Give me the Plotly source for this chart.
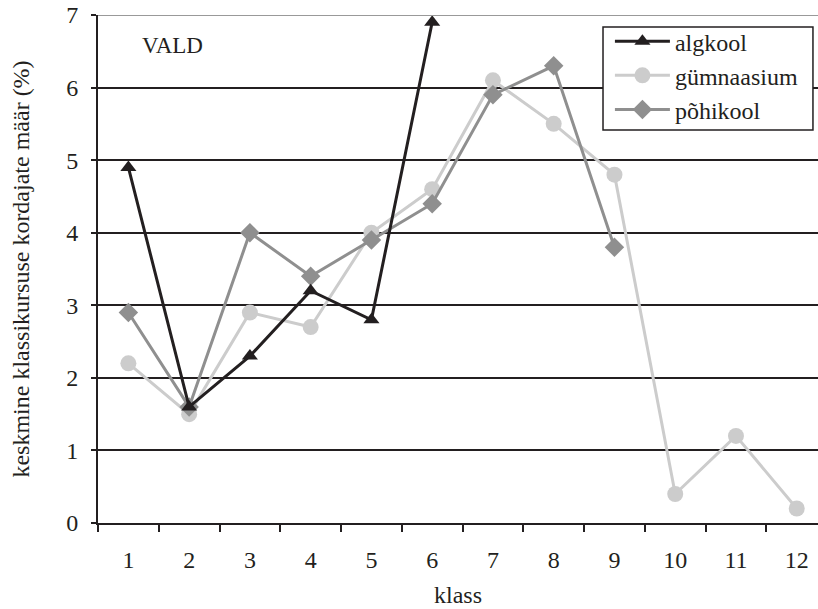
import plotly.graph_objects as go

klass = ["1", "2", "3", "4", "5", "6", "7", "8", "9", "10", "11", "12"]
algkool = [4.9, 1.6, 2.3, 3.2, 2.8, 6.9]
gymnaasium = [2.2, 1.5, 2.9, 2.7, 4.0, 4.6, 6.1, 5.5, 4.8, 0.4, 1.2, 0.2]
pohikool = [2.9, 1.6, 4.0, 3.4, 3.9, 4.4, 5.9, 6.3, 3.8]

FONT = "Liberation Serif"
INK = "#231f20"

fig = go.Figure()
fig.add_trace(go.Scatter(
    x=klass[:len(gymnaasium)], y=gymnaasium, name="gümnaasium", mode="lines+markers",
    line=dict(color="#cccccc", width=3), marker=dict(symbol="circle", size=16, color="#cccccc"),
    legendrank=2))
fig.add_trace(go.Scatter(
    x=klass[:len(pohikool)], y=pohikool, name="põhikool", mode="lines+markers",
    line=dict(color="#8f8f8f", width=3), marker=dict(symbol="diamond", size=15, color="#8f8f8f"),
    legendrank=3))
fig.add_trace(go.Scatter(
    x=klass[:len(algkool)], y=algkool, name="algkool", mode="lines+markers",
    line=dict(color=INK, width=3), marker=dict(symbol="triangle-up", size=14, color=INK),
    legendrank=1))

fig.update_layout(
    width=818, height=609,
    margin=dict(l=98, r=0, t=15, b=86),
    paper_bgcolor="white", plot_bgcolor="white",
    font=dict(family=FONT, size=24, color=INK),
    showlegend=True,
    legend=dict(x=0.711, y=0.992, xanchor="left", yanchor="top",
                borderwidth=0, bgcolor="rgba(0,0,0,0)",
                font=dict(family=FONT, size=24, color=INK),
                tracegroupgap=0, itemwidth=55),
    xaxis=dict(type="category", categoryorder="array", categoryarray=klass,
               range=[-0.5, 11.35], tickson="boundaries",
               ticks="outside", ticklen=7, tickwidth=1.5, tickcolor=INK,
               showline=True, linecolor=INK, linewidth=2,
               showgrid=False, zeroline=False, ticklabelstandoff=14,
               tickfont=dict(family=FONT, size=24, color=INK),
               title=dict(text="klass", standoff=14,
                          font=dict(family=FONT, size=24, color=INK))),
    yaxis=dict(range=[0, 7], tickvals=[0, 1, 2, 3, 4, 5, 6, 7],
               ticks="outside", ticklen=5, tickwidth=1.5, tickcolor=INK,
               showline=True, linecolor=INK, linewidth=2,
               showgrid=True, gridcolor=INK, gridwidth=1.5, zeroline=False,
               ticklabelstandoff=8,
               tickfont=dict(family=FONT, size=24, color=INK),
               title=dict(text="keskmine klassikursuse kordajate määr (%)", standoff=30,
                          font=dict(family=FONT, size=24, color=INK))),
    shapes=[
        dict(type="line", xref="paper", yref="y", x0=0, x1=1, y0=7, y1=7,
             line=dict(color="#999999", width=2), layer="above"),
        dict(type="rect", xref="paper", yref="paper", x0=0.7014, x1=0.993, y0=0.7736, y1=0.9764,
             line=dict(color=INK, width=1.5), fillcolor="white", layer="above"),
    ],
    annotations=[dict(text="VALD", x=0.104, y=0.939, xref="paper", yref="paper",
                      xanchor="center", yanchor="middle", showarrow=False,
                      font=dict(family=FONT, size=23, color=INK))],
)

fig.write_html("out.html")
